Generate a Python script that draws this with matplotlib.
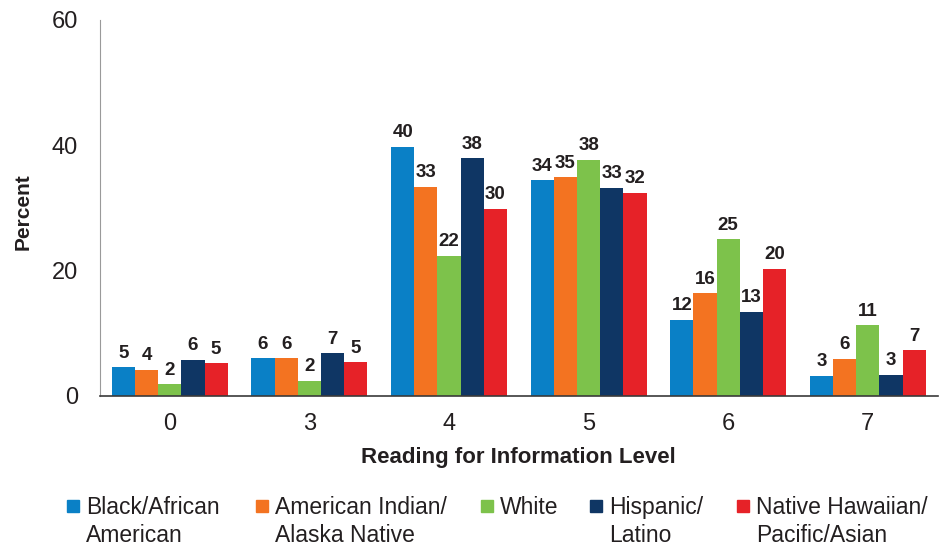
import numpy as np
import matplotlib.pyplot as plt
from matplotlib.patches import Rectangle

levels = ["0", "3", "4", "5", "6", "7"]
groups = ["Black/African\nAmerican", "American Indian/\nAlaska Native", "White",
          "Hispanic/\nLatino", "Native Hawaiian/\nPacific/Asian"]
black = [4.6, 6.0, 39.8, 34.4, 12.2, 3.2]
amind = [4.2, 6.0, 33.4, 34.9, 16.4, 5.9]
white = [1.9, 2.4, 22.4, 37.7, 25.0, 11.3]
hisp = [5.8, 6.8, 37.9, 33.2, 13.4, 3.4]
nhpi = [5.2, 5.4, 29.9, 32.4, 20.3, 7.3]
colors = ["#0a80c6", "#f37321", "#7dc24b", "#0f3664", "#e62228"]

plt.rcParams['font.family'] = ['Liberation Sans', 'DejaVu Sans']
ink = "#231f20"
W, H = 940, 549

fig = plt.figure(figsize=(9.4, 5.49), dpi=100)
ax = fig.add_axes([0.1064, 0.2787, 0.891, 0.685])

x = np.arange(len(levels))
w = 0.166
series = [black, amind, white, hisp, nhpi]
for i, (vals, c, name) in enumerate(zip(series, colors, groups)):
	bars = ax.bar(x + (i - 2) * w, vals, w, color=c, label=name, linewidth=0)
	ax.bar_label(bars, labels=[f"{v:.0f}" for v in vals], padding=4,
				 fontsize=13.5, fontweight='bold', color=ink)

ax.set_xlim(-0.5, 5.5)
ax.set_ylim(0, 60)
ax.set_yticks([0, 20, 40, 60])
ax.set_xticks(x)
ax.set_xticklabels(levels)
ax.tick_params(axis='both', length=0, labelsize=17, colors=ink)
ax.tick_params(axis='y', pad=16)
ax.tick_params(axis='x', pad=12)
for s in ['top', 'right']:
	ax.spines[s].set_visible(False)
ax.spines['left'].set_color('#9a9a9a')
ax.spines['left'].set_linewidth(0.8)
ax.spines['bottom'].set_color('#3a3a3a')
ax.spines['bottom'].set_linewidth(1.2)

ax.set_ylabel("Percent", fontsize=15, fontweight='bold', color=ink)
ax.yaxis.set_label_coords(-0.080, 0.49)
ax.set_xlabel("Reading for Information Level", fontsize=16, fontweight='bold',
			  color=ink, labelpad=9)

# legend laid out by hand, like the original
mark_x = [67, 256, 481, 590, 737]
for mx, c, name in zip(mark_x, colors, groups):
	fig.patches.append(Rectangle((mx / W, 1 - 512 / H), 12 / W, 12 / H,
								 transform=fig.transFigure, color=c, figure=fig))
	fig.text((mx + 19) / W, 1 - 496 / H, name, fontsize=16.5, color=ink,
			 ha='left', va='top', linespacing=1.3)

fig.savefig("out.png", dpi=100)
